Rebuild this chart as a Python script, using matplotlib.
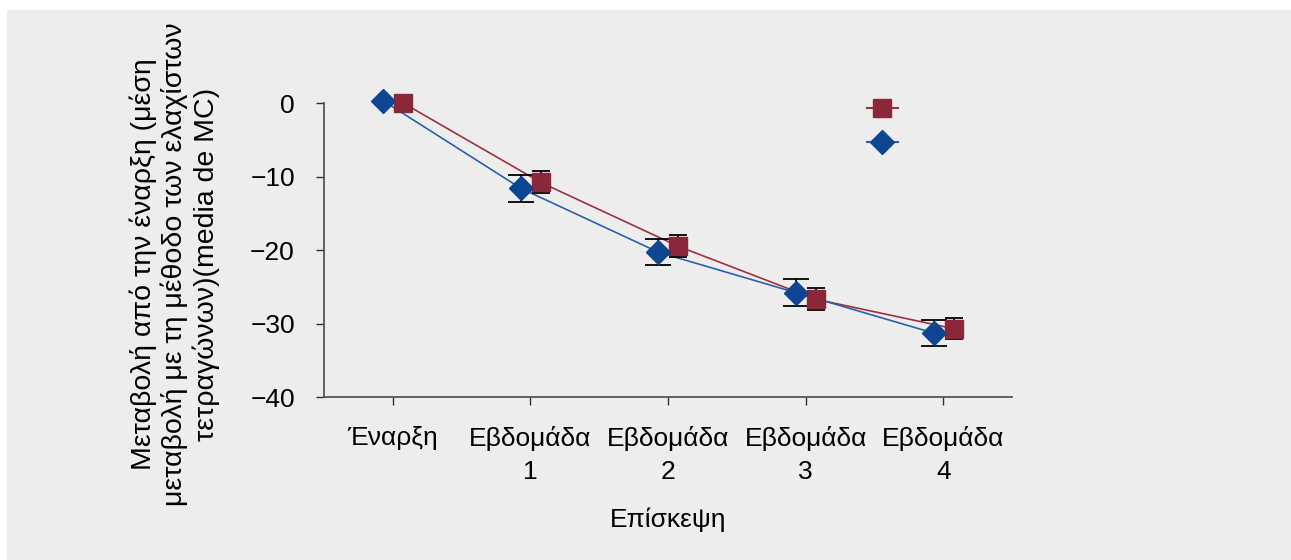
import matplotlib
matplotlib.use("Agg")
import matplotlib.pyplot as plt
from matplotlib.patches import Rectangle
import numpy as np

plt.rcParams['font.family'] = ['Liberation Sans', 'DejaVu Sans']

visits = ['Έναρξη', 'Εβδομάδα\n1', 'Εβδομάδα\n2', 'Εβδομάδα\n3', 'Εβδομάδα\n4']
blue_mean = [0.3, -11.6, -20.3, -25.8, -31.3]
blue_err = [0.0, 1.8, 1.8, 1.8, 1.75]
red_mean = [0.0, -10.8, -19.5, -26.7, -30.7]
red_err = [0.0, 1.5, 1.5, 1.5, 1.4]

blue = '#0e4691'
blue_line = '#2b60ad'
red = '#8a2738'
red_line = '#9c3142'
bg = '#ededed'
fs = 19

fig = plt.figure(figsize=(12.91, 5.6), dpi=100)
fig.patches.append(Rectangle((7 / 1291, 0), 1, 550 / 560, transform=fig.transFigure,
                             facecolor=bg, edgecolor='none', zorder=-10))
ax = fig.add_axes([0.251, 0.291, 0.533, 0.525])
ax.set_facecolor(bg)

x = np.arange(len(visits))
xb = x - 0.07
xr = x + 0.075

# lines
ax.plot(xr, red_mean, color=red_line, lw=1.2, zorder=2)
ax.plot(xb, blue_mean, color=blue_line, lw=1.2, zorder=2)
# error bars
ax.errorbar(xb, blue_mean, yerr=blue_err, fmt='none', ecolor='black', elinewidth=1.3,
            capsize=9.5, capthick=1.3, zorder=3)
ax.errorbar(xr, red_mean, yerr=red_err, fmt='none', ecolor='black', elinewidth=1.3,
            capsize=6.5, capthick=1.3, zorder=3)
# markers
ax.plot(xr, red_mean, 's', color=red, ms=13.5, mec=red, zorder=4, clip_on=False)
ax.plot(xb, blue_mean, 'D', color=blue, ms=12, mec=blue, zorder=4, clip_on=False)

lr, = ax.plot([], [], color=red_line, lw=1.5, marker='s', ms=13.5, mfc=red, mec=red)
lb, = ax.plot([], [], color=blue_line, lw=1.5, marker='D', ms=12, mfc=blue, mec=blue)
ax.legend([lr, lb], ['', ''], loc='upper left', bbox_to_anchor=(0.758, 1.085),
          frameon=False, handlelength=1.3, labelspacing=0.5, fontsize=17,
          handletextpad=0)

ax.set_xlim(-0.5, 4.5)
ax.set_ylim(-40, 0)
ax.set_yticks([0, -10, -20, -30, -40])
ax.set_xticks(x)
ax.set_xticklabels(visits, linespacing=1.45)
ax.tick_params(axis='both', labelsize=fs, length=6, width=1, color='#333333')
ax.tick_params(axis='y', pad=15)
ax.tick_params(axis='x', pad=15)
for s in ['top', 'right']:
    ax.spines[s].set_visible(False)
for s in ['left', 'bottom']:
    ax.spines[s].set_color('#555555')
    ax.spines[s].set_linewidth(1.3)

ax.set_xlabel('Επίσκεψη', fontsize=fs, labelpad=17)
ax.set_ylabel('Μεταβολή από την έναρξη (μέση\nμεταβολή με τη μέθοδο των ελαχίστων\n'
              'τετραγώνων)(media de MC)', fontsize=20.5, linespacing=1.2)
ax.yaxis.set_label_coords(-0.151, 0.452)

fig.savefig('out.png', dpi=100, facecolor='white')
